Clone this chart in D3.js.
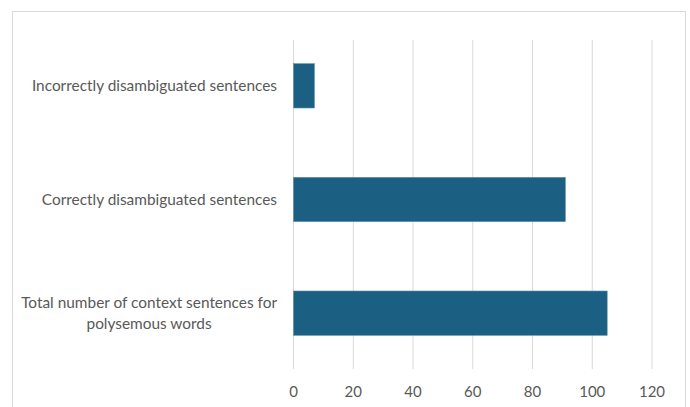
<!DOCTYPE html>
<html>
<head>
<meta charset="utf-8">
<script src="https://cdn.jsdelivr.net/npm/d3@7"></script>
<style>
  body { margin: 0; background: #fff; }
  text { font-family: Lato, "Open Sans", sans-serif; fill: #595959; }
</style>
</head>
<body>
<div id="chart"></div>
<script>
// data
var categories = [
  "Incorrectly disambiguated sentences",
  "Correctly disambiguated sentences",
  "Total number of context sentences for polysemous words"
]
var labelLines = [
  ["Incorrectly disambiguated sentences"],
  ["Correctly disambiguated sentences"],
  ["Total number of context sentences for", "polysemous words"]
]
var values = [7, 91, 105]
var xTicks = [0, 20, 40, 60, 80, 100, 120]

var width = 690
var height = 407

var svg = d3.select("#chart")
  .append("svg")
    .attr("width", width)
    .attr("height", height)

// chart frame
svg.append("rect")
  .attr("x", 12.5)
  .attr("y", 11.5)
  .attr("width", 673)
  .attr("height", 420)
  .attr("fill", "#fff")
  .attr("stroke", "#d9d9d9")

var x = d3.scaleLinear()
  .domain([0, 120])
  .range([293.5, 652])

var y = d3.scaleBand()
  .domain(categories)
  .range([29, 370])
  .paddingInner(0.61)
  .paddingOuter(0.305)

// vertical gridlines
svg.selectAll(".grid")
  .data(xTicks)
  .enter()
  .append("line")
    .attr("x1", function(d) { return x(d) })
    .attr("x2", function(d) { return x(d) })
    .attr("y1", 40)
    .attr("y2", 369)
    .attr("stroke", "#d9d9d9")
    .attr("stroke-width", 1)

// bars
svg.selectAll(".bar")
  .data(values)
  .enter()
  .append("rect")
    .attr("x", x(0))
    .attr("y", function(d, i) { return y(categories[i]) })
    .attr("width", function(d) { return x(d) - x(0) })
    .attr("height", y.bandwidth())
    .attr("fill", "#1b5f82")
    .attr("stroke", "#5b8fae")
    .attr("stroke-width", 0.6)

// x tick labels
svg.selectAll(".xlab")
  .data(xTicks)
  .enter()
  .append("text")
    .attr("x", function(d) { return x(d) })
    .attr("y", 397)
    .attr("text-anchor", "middle")
    .style("font-size", "15px")
    .text(function(d) { return d })

// category labels: block right edge at 277, lines centred within the block
var labelRight = 277
var lab = svg.selectAll(".ylab")
  .data(categories)
  .enter()
  .append("text")
    .attr("text-anchor", "middle")
    .style("font-size", "15.4px")

lab.selectAll("tspan")
  .data(function(d, i) { return labelLines[i] })
  .enter()
  .append("tspan")
    .attr("x", 0)
    .attr("dy", function(d, j) { return j === 0 ? 0 : 21 })
    .text(function(d) { return d })

lab.attr("transform", function(d, i) {
  var w = d3.max(d3.select(this).selectAll("tspan").nodes(), function(n) {
    return n.getComputedTextLength()
  })
  var n = labelLines[i].length
  var cy = y(d) + y.bandwidth() / 2 - (n - 1) * 10.5 + 5
  return "translate(" + (labelRight - w / 2) + "," + cy + ")"
})
</script>
</body>
</html>
